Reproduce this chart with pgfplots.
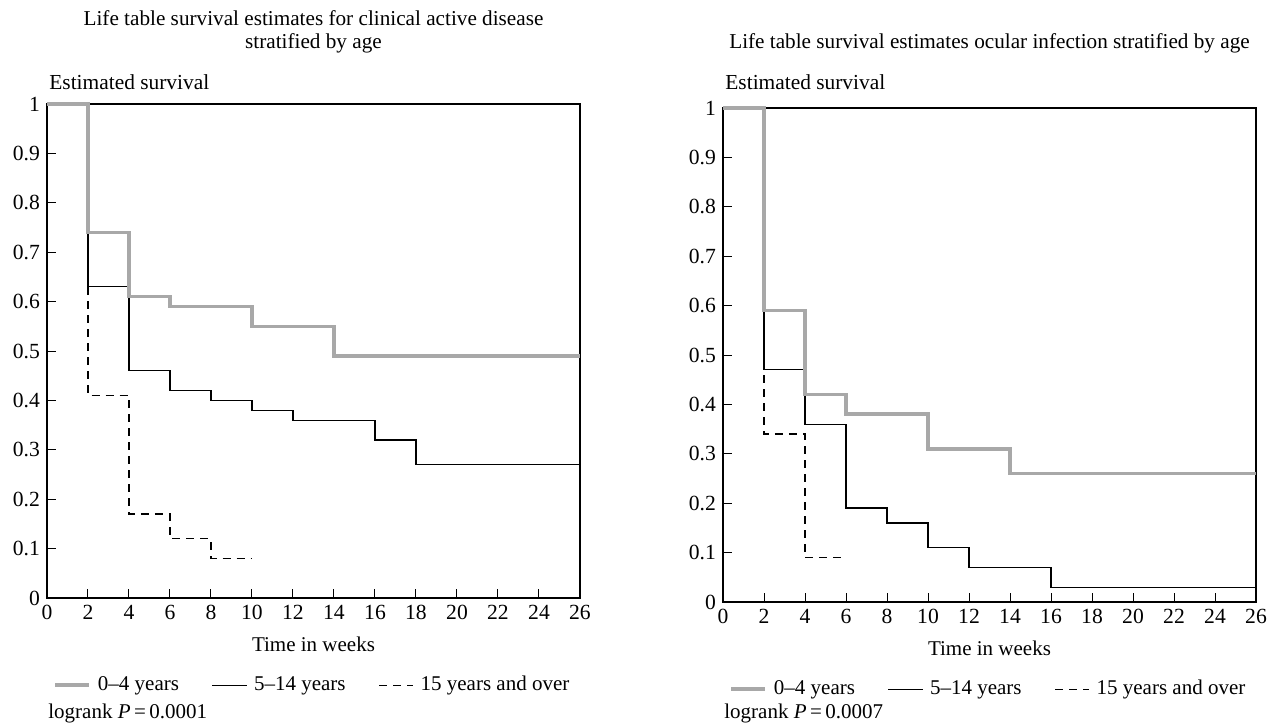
\documentclass[border=0pt]{standalone}
\usepackage{fontspec}
\setmainfont{Liberation Serif}
\usepackage{pgfplots}
\pgfplotsset{compat=1.18}

\definecolor{young}{RGB}{168,168,168}

\pgfplotsset{
  km/.style={
    scale only axis, width=266.5pt, height=247pt,
    xmin=0, xmax=26, ymin=0, ymax=1,
    xtick={0,2,4,6,8,10,12,14,16,18,20,22,24,26},
    ytick={0,0.1,0.2,0.3,0.4,0.5,0.6,0.7,0.8,0.9,1},
    yticklabels={0,0.1,0.2,0.3,0.4,0.5,0.6,0.7,0.8,0.9,1},
    xtick pos=bottom, ytick pos=left, tick align=inside,
    major tick length=4.5pt,
    tick style={black, line width=0.5pt},
    axis line style={line width=0.6pt},
    /pgf/number format/assume math mode=true,
    ticklabel style={font=\fontsize{10.8}{12}\selectfont},
    clip=false,
    xlabel={Time in weeks},
    xlabel style={at={(axis description cs:0.5,0)}, anchor=base,
      yshift=-26.5pt, font=\fontsize{10.5}{12}\selectfont},
    legend columns=3,
    legend style={draw=none, fill=none, at={(axis description cs:0,0)},
      anchor=north west, xshift=0pt, yshift=-35pt,
      font=\fontsize{10.5}{12}\selectfont,
      nodes={inner xsep=3.4pt},
      /tikz/every even column/.append style={column sep=13pt}},
    const plot mark left,
  },
  g04/.style={young, line width=1.8pt},
  g514/.style={black, line width=0.65pt},
  g15/.style={black, line width=0.65pt, dash pattern=on 4pt off 3pt},
}

\begin{document}
\begin{tikzpicture}
\useasboundingbox (0,0) rectangle (638pt,-361.5pt);

% clinical active disease
\begin{axis}[km, at={(23.5pt,-299pt)}, anchor=south west]
\addlegendimage{g04}\addlegendentry{0--4 years}
\addlegendimage{g514}\addlegendentry{5--14 years}
\addlegendimage{g15}\addlegendentry{15 years and over}
\addplot[g15, forget plot] coordinates {(0,1) (2,0.41) (4,0.17) (6,0.12) (8,0.08) (10,0.08)};
\addplot[g514, forget plot] coordinates {(0,1) (2,0.63) (4,0.46) (6,0.42) (8,0.40) (10,0.38) (12,0.36) (16,0.32) (18,0.27) (26,0.27)};
\addplot[g04, forget plot] coordinates {(0,1) (2,0.74) (4,0.61) (6,0.59) (10,0.55) (14,0.49) (26,0.49)};
\node[align=center, anchor=south, inner sep=0pt, font=\fontsize{10.6}{11.5}\selectfont]
  at (rel axis cs:0.5,1) [yshift=25.5pt]
  {Life table survival estimates for clinical active disease\\stratified by age};
\node[anchor=base west, inner sep=0pt, font=\fontsize{10.7}{12}\selectfont]
  at (rel axis cs:0,1) [xshift=1pt, yshift=7.5pt] {Estimated survival};
\node[anchor=base west, inner sep=0pt, font=\fontsize{10.5}{12}\selectfont]
  at (rel axis cs:0,0) [xshift=0.5pt, yshift=-60pt] {logrank \textit{P}\,=\,0.0001};
\end{axis}

% ocular infection
\begin{axis}[km, at={(361.5pt,-301pt)}, anchor=south west]
\addlegendimage{g04}\addlegendentry{0--4 years}
\addlegendimage{g514}\addlegendentry{5--14 years}
\addlegendimage{g15}\addlegendentry{15 years and over}
\addplot[g15, forget plot] coordinates {(0,1) (2,0.34) (4,0.09) (6,0.09)};
\addplot[g514, forget plot] coordinates {(0,1) (2,0.47) (4,0.36) (6,0.19) (8,0.16) (10,0.11) (12,0.07) (16,0.03) (26,0.03)};
\addplot[g04, forget plot] coordinates {(0,1) (2,0.59) (4,0.42) (6,0.38) (10,0.31) (14,0.26) (26,0.26)};
\node[anchor=south, inner sep=0pt, font=\fontsize{10.6}{12}\selectfont]
  at (rel axis cs:0.5,1) [yshift=27.5pt]
  {Life table survival estimates ocular infection stratified by age};
\node[anchor=base west, inner sep=0pt, font=\fontsize{10.7}{12}\selectfont]
  at (rel axis cs:0,1) [xshift=1pt, yshift=9.5pt] {Estimated survival};
\node[anchor=base west, inner sep=0pt, font=\fontsize{10.5}{12}\selectfont]
  at (rel axis cs:0,0) [xshift=0.5pt, yshift=-58pt] {logrank \textit{P}\,=\,0.0007};
\end{axis}
\end{tikzpicture}
\end{document}
